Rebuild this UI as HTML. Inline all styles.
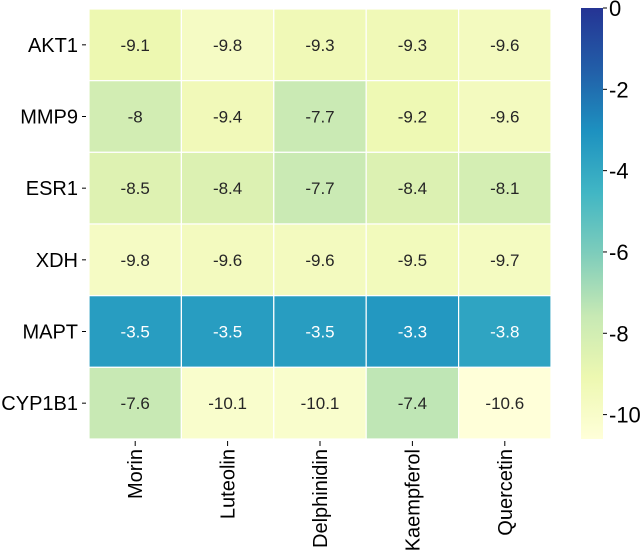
<!DOCTYPE html>
<html><head><meta charset="utf-8"><style>
body{margin:0;background:#fff;}
svg{display:block;font-family:"Liberation Sans",Arial,sans-serif;}
</style></head><body>
<svg id="c" width="644" height="554" viewBox="0 0 644 554">
<defs><linearGradient id="cbg" x1="0" y1="1" x2="0" y2="0"></linearGradient></defs>
</svg>
<script>
const rows = ["AKT1","MMP9","ESR1","XDH","MAPT","CYP1B1"];
const cols = ["Morin","Luteolin","Delphinidin","Kaempferol","Quercetin"];
const values = [
 [-9.1,-9.8,-9.3,-9.3,-9.6],
 [-8,-9.4,-7.7,-9.2,-9.6],
 [-8.5,-8.4,-7.7,-8.4,-8.1],
 [-9.8,-9.6,-9.6,-9.5,-9.7],
 [-3.5,-3.5,-3.5,-3.3,-3.8],
 [-7.6,-10.1,-10.1,-7.4,-10.6]
];
const cbTicks = [0,-2,-4,-6,-8,-10];
const vmin = -10.6, vmax = 0;
const stops = ["#ffffd9","#edf8b1","#c7e9b4","#7fcdbb","#41b6c4","#1d91c0","#225ea8","#253494"];
function hex(h){return [1,3,5].map(i=>parseInt(h.substr(i,2),16));}
function color(v){
  let t=(v-vmin)/(vmax-vmin); t=Math.max(0,Math.min(1,t));
  const s=t*(stops.length-1); const i=Math.min(Math.floor(s),stops.length-2); const f=s-i;
  const a=hex(stops[i]),b=hex(stops[i+1]);
  return "rgb("+a.map((x,k)=>Math.round(x+(b[k]-x)*f)).join(",")+")";
}
const L=89,R=551,T=9,B=439;
const cw=(R-L)/cols.length, rh=(B-T)/rows.length;
const xPos=j=>L+j*cw, yPos=i=>T+i*rh;
const cbX=581,cbW=22,cbT=8,cbB=439;
const cbY=v=>cbT+(vmax-v)/(vmax-vmin)*(cbB-cbT);
const svg=document.getElementById('c');
const NS="http://www.w3.org/2000/svg";
function el(t,a,p){const e=document.createElementNS(NS,t);for(const k in a)e.setAttribute(k,a[k]);(p||svg).appendChild(e);return e;}
const g=document.getElementById('cbg');
stops.forEach((s,i)=>el('stop',{offset:(i/(stops.length-1)*100)+'%','stop-color':s},g));
rows.forEach((r,i)=>{
  cols.forEach((c,j)=>{
    const v=values[i][j];
    const rc=el('rect',{x:xPos(j),y:yPos(i),width:cw,height:rh,fill:color(v),stroke:'#fff','stroke-width':1.2});
    
    
    const t=(v-vmin)/(vmax-vmin);
    const tx=el('text',{x:xPos(j)+cw/2,y:yPos(i)+rh/2+6,'text-anchor':'middle','font-size':17,fill:t>0.5?'#fff':'#262626'});
    tx.textContent=String(v);
    
    
  });
  const yc=yPos(i)+rh/2;
  el('line',{x1:82,x2:86,y1:yc,y2:yc,stroke:'#000','stroke-width':1});
  const lb=el('text',{x:78,y:yc+7,'text-anchor':'end','font-size':20,fill:'#000'});
  lb.textContent=r;
  
  
});
cols.forEach((c,j)=>{
  const xc=xPos(j)+cw/2;
  el('line',{x1:xc,x2:xc,y1:441,y2:446,stroke:'#000','stroke-width':1});
  const lb=el('text',{x:0,y:0,'text-anchor':'end','font-size':20,fill:'#000',transform:`translate(${xc+7},449) rotate(-90)`});
  lb.textContent=c;
  
  
});
const cb=el('rect',{x:cbX,y:cbT,width:cbW,height:cbB-cbT,fill:'url(#cbg)'});


cbTicks.forEach(v=>{
  const y=cbY(v);
  el('line',{x1:cbX+cbW,x2:cbX+cbW+4,y1:y,y2:y,stroke:'#000','stroke-width':1});
  const t=el('text',{x:cbX+cbW+6,y:y+8,'font-size':22,fill:'#000'});
  t.textContent=String(v);
  
  
});
</script>
</body></html>
